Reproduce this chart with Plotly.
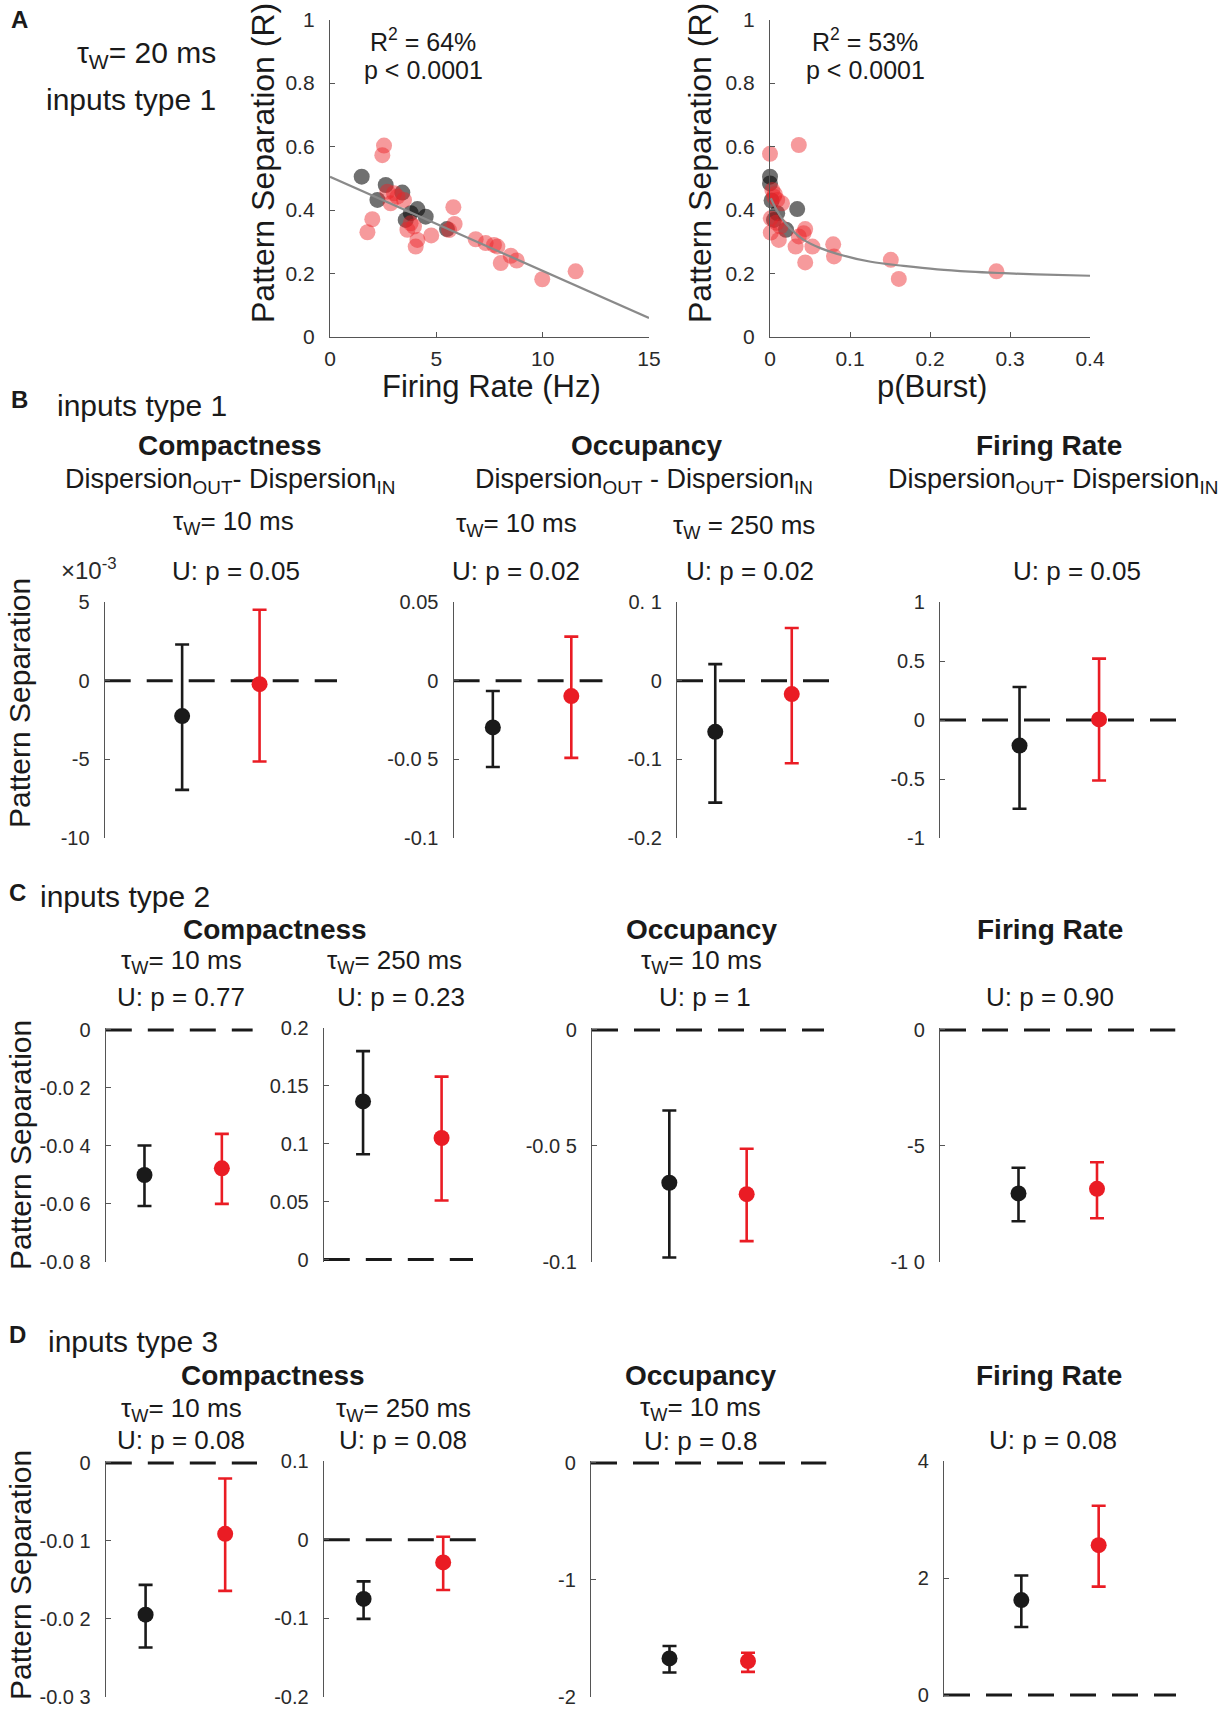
import plotly.graph_objects as go

W, H = 1231, 1709
FONT = "Liberation Sans, Arial, sans-serif"
RED = "#ea1c24"
BLK = "#1a1a1a"
AXC = "#555555"

# ---------------- Panel A data ----------------
a1_grey_x = [1.49, 2.62, 2.23, 3.40, 4.11, 4.50, 3.56, 3.80, 5.50]
a1_grey_y = [0.505, 0.479, 0.432, 0.455, 0.403, 0.379, 0.369, 0.390, 0.340]
a1_red_x = [2.54, 2.46, 1.99, 1.76, 3.01, 2.70, 2.85, 3.17, 3.48, 3.79, 3.64, 3.95, 4.11,
            4.03, 4.76, 5.80, 5.86, 5.60, 6.85, 7.32, 7.71, 7.87, 8.03, 8.50, 8.78, 9.98, 11.55]
a1_red_y = [0.603, 0.573, 0.371, 0.330, 0.453, 0.458, 0.421, 0.442, 0.432, 0.358, 0.338, 0.348, 0.306,
            0.285, 0.320, 0.409, 0.356, 0.337, 0.308, 0.296, 0.290, 0.285, 0.233, 0.256, 0.241, 0.182, 0.207]
a1_fit_x = [0, 15]
a1_fit_y = [0.505, 0.060]

a2_grey_x = [0.000, 0.000, 0.002, 0.034, 0.005, 0.020, 0.009]
a2_grey_y = [0.505, 0.484, 0.430, 0.403, 0.369, 0.338, 0.390]
a2_red_x = [0.000, 0.036, 0.001, 0.001, 0.003, 0.005, 0.009, 0.015, 0.013, 0.011, 0.032, 0.036,
            0.044, 0.042, 0.053, 0.044, 0.079, 0.080, 0.151, 0.161, 0.283, 0.006, 0.008]
a2_red_y = [0.577, 0.605, 0.374, 0.329, 0.463, 0.442, 0.432, 0.421, 0.348, 0.306, 0.285, 0.317,
            0.340, 0.327, 0.285, 0.235, 0.292, 0.254, 0.243, 0.183, 0.207, 0.450, 0.360]
a2_fit_x = [0.001, 0.013, 0.026, 0.042, 0.063, 0.084, 0.126, 0.167, 0.209, 0.250, 0.292, 0.333, 0.400]
a2_fit_y = [0.437, 0.380, 0.340, 0.306, 0.280, 0.262, 0.237, 0.224, 0.213, 0.206, 0.201, 0.197, 0.193]

# ---------------- Panels B-D data: [black, red] ----------------
group_x = [1, 2]
# B inputs type 1
b1_mean = [-2.25, -0.22]; b1_hi = [2.30, 4.51]; b1_lo = [-6.94, -5.14]          # x 10^-3
b2_mean = [-0.0297, -0.0098]; b2_hi = [-0.0066, 0.028]; b2_lo = [-0.0549, -0.0491]
b3_mean = [-0.065, -0.017]; b3_hi = [0.021, 0.067]; b3_lo = [-0.155, -0.105]
b4_mean = [-0.217, 0.005]; b4_hi = [0.28, 0.52]; b4_lo = [-0.752, -0.513]
# C inputs type 2
c1_mean = [-0.0501, -0.0478]; c1_hi = [-0.0399, -0.0359]; c1_lo = [-0.0608, -0.0601]
c2_mean = [0.1366, 0.105]; c2_hi = [0.180, 0.158]; c2_lo = [0.091, 0.051]
c3_mean = [-0.066, -0.0709]; c3_hi = [-0.0348, -0.0513]; c3_lo = [-0.0983, -0.0912]
c4_mean = [-7.06, -6.86]; c4_hi = [-5.95, -5.71]; c4_lo = [-8.26, -8.13]
# D inputs type 3
d1_mean = [-0.01944, -0.00908]; d1_hi = [-0.01563, -0.00199]; d1_lo = [-0.02366, -0.01639]
d2_mean = [-0.0753, -0.0289]; d2_hi = [-0.053, 0.0037]; d2_lo = [-0.1007, -0.064]
d3_mean = [-1.670, -1.693]; d3_hi = [-1.564, -1.622]; d3_lo = [-1.791, -1.785]
d4_mean = [1.623, 2.561]; d4_hi = [2.043, 3.235]; d4_lo = [1.163, 1.853]

# tick labels
b1_ticks = [-10, -5, 0, 5]; b1_text = ["-10", "-5", "0", "5"]
b2_ticks = [-0.1, -0.05, 0, 0.05]; b2_text = ["-0.1", "-0.0 5", "0", "0.05"]
b3_ticks = [-0.2, -0.1, 0, 0.1]; b3_text = ["-0.2", "-0.1", "0", "0. 1"]
b4_ticks = [-1, -0.5, 0, 0.5, 1]; b4_text = ["-1", "-0.5", "0", "0.5", "1"]
c1_ticks = [-0.08, -0.06, -0.04, -0.02, 0]; c1_text = ["-0.0 8", "-0.0 6", "-0.0 4", "-0.0 2", "0"]
c2_ticks = [0, 0.05, 0.1, 0.15, 0.2]; c2_text = ["0", "0.05", "0.1", "0.15", "0.2"]
c3_ticks = [-0.1, -0.05, 0]; c3_text = ["-0.1", "-0.0 5", "0"]
c4_ticks = [-10, -5, 0]; c4_text = ["-1 0", "-5", "0"]
d1_ticks = [-0.03, -0.02, -0.01, 0]; d1_text = ["-0.0 3", "-0.0 2", "-0.0 1", "0"]
d2_ticks = [-0.2, -0.1, 0, 0.1]; d2_text = ["-0.2", "-0.1", "0", "0.1"]
d3_ticks = [-2, -1, 0]; d3_text = ["-2", "-1", "0"]
d4_ticks = [0, 2, 4]; d4_text = ["0", "2", "4"]

fig = go.Figure()
layout = {}
annotations = []


def px_dom(x0, x1, y0, y1):
    return [x0 / W, x1 / W], [1 - y1 / H, 1 - y0 / H]


def ann(x, y, text, size=26, bold=False, xanchor="center", angle=0, color=BLK):
    if bold:
        text = "<b>" + text + "</b>"
    annotations.append(dict(x=x / W, y=1 - y / H, xref="paper", yref="paper", text=text,
                            showarrow=False, xanchor=xanchor, yanchor="middle", textangle=angle,
                            font=dict(family=FONT, size=size, color=color)))


def axis_names(i):
    s = "" if i == 1 else str(i)
    return "xaxis" + s, "yaxis" + s, "x" + s, "y" + s


# ---------------- Panel A scatter plots ----------------
def scatter_panel(i, box, xr, xt, yr, yt, gx, gy, rx, ry, fx, fy, smooth):
    xa, ya, xn, yn = axis_names(i)
    xd, yd = px_dom(*box)
    common = dict(showgrid=False, zeroline=False, showline=True, linecolor=AXC, linewidth=1.3,
                  ticks="inside", ticklen=5, tickcolor=AXC, tickwidth=1.2,
                  tickfont=dict(family=FONT, size=21, color="#2a2a2a"))
    layout[xa] = dict(domain=xd, range=xr, anchor=yn, tickvals=xt, ticktext=[("%g" % v) for v in xt],
                      ticklabelstandoff=3, **common)
    layout[ya] = dict(domain=yd, range=yr, anchor=xn, tickvals=yt, ticktext=[("%g" % v) for v in yt],
                      ticklabelstandoff=10, **common)
    fig.add_trace(go.Scatter(x=gx, y=gy, mode="markers", xaxis=xn, yaxis=yn, cliponaxis=False,
                             marker=dict(size=16, color="rgba(0,0,0,0.56)", line=dict(width=0))))
    fig.add_trace(go.Scatter(x=rx, y=ry, mode="markers", xaxis=xn, yaxis=yn, cliponaxis=False,
                             marker=dict(size=16, color="rgba(236,34,40,0.46)", line=dict(width=0))))
    fig.add_trace(go.Scatter(x=fx, y=fy, mode="lines", xaxis=xn, yaxis=yn,
                             line=dict(color="#8a8a8a", width=2.2, shape="spline" if smooth else "linear")))


scatter_panel(1, (330, 649, 19.6, 337), [0, 15], [0, 5, 10, 15], [0, 1], [0, 0.2, 0.4, 0.6, 0.8, 1],
              a1_grey_x, a1_grey_y, a1_red_x, a1_red_y, a1_fit_x, a1_fit_y, False)
scatter_panel(2, (770, 1090, 19.6, 337), [0, 0.4], [0, 0.1, 0.2, 0.3, 0.4], [0, 1],
              [0, 0.2, 0.4, 0.6, 0.8, 1],
              a2_grey_x, a2_grey_y, a2_red_x, a2_red_y, a2_fit_x, a2_fit_y, True)


# ---------------- Error bar panels ----------------
def err_panel(i, box, xr, yr, ticks, text, mean, hi, lo):
    xa, ya, xn, yn = axis_names(i)
    xd, yd = px_dom(*box)
    span = yr[1] - yr[0]
    hpx = box[3] - box[2]
    pad = span * 2.0 / hpx
    r0 = yr[0] - pad if abs(yr[0]) < 1e-12 else yr[0]
    r1 = yr[1] + pad if abs(yr[1]) < 1e-12 else yr[1]
    layout[xa] = dict(domain=xd, range=xr, anchor=yn, visible=False, showgrid=False, zeroline=False)
    layout[ya] = dict(domain=yd, range=[r0, r1], anchor=xn, showgrid=False, zeroline=False,
                      showline=True, linecolor=AXC, linewidth=1.3, ticks="inside", ticklen=5,
                      tickcolor=AXC, tickwidth=1.2, tickvals=ticks, ticktext=text, ticklabelstandoff=10,
                      tickfont=dict(family=FONT, size=20, color="#2a2a2a"))
    fig.add_trace(go.Scatter(x=xr, y=[0, 0], mode="lines", xaxis=xn, yaxis=yn,
                             line=dict(color=BLK, width=3, dash="26px,16px")))
    cols = [BLK, RED]
    for k in range(2):
        fig.add_trace(go.Scatter(
            x=[group_x[k]], y=[mean[k]], mode="markers", xaxis=xn, yaxis=yn, cliponaxis=False,
            marker=dict(size=16, color=cols[k], line=dict(width=0)),
            error_y=dict(type="data", symmetric=False, array=[hi[k] - mean[k]],
                         arrayminus=[mean[k] - lo[k]], color=cols[k], thickness=2.6, width=7)))


BY = (602, 838)
CY = (1028, 1261.5)
DY = (1461, 1697)
err_panel(3, (104.7, 337, *BY), [0, 3], [-10, 5], b1_ticks, b1_text, b1_mean, b1_hi, b1_lo)
err_panel(4, (453.6, 602.7, *BY), [0.5, 2.4], [-0.1, 0.05], b2_ticks, b2_text, b2_mean, b2_hi, b2_lo)
err_panel(5, (677, 830, *BY), [0.5, 2.5], [-0.2, 0.1], b3_ticks, b3_text, b3_mean, b3_hi, b3_lo)
err_panel(6, (940, 1178.6, *BY), [0, 3], [-1, 1], b4_ticks, b4_text, b4_mean, b4_hi, b4_lo)

err_panel(7, (105.8, 252.8, *CY), [0.5, 2.4], [-0.08, 0], c1_ticks, c1_text, c1_mean, c1_hi, c1_lo)
err_panel(8, (323.8, 473, *CY), [0.5, 2.4], [0, 0.2], c2_ticks, c2_text, c2_mean, c2_hi, c2_lo)
err_panel(9, (592, 824, *CY), [0, 3], [-0.1, 0], c3_ticks, c3_text, c3_mean, c3_hi, c3_lo)
err_panel(10, (940, 1175.5, *CY), [0, 3], [-10, 0], c4_ticks, c4_text, c4_mean, c4_hi, c4_lo)

err_panel(11, (105.8, 257, *DY), [0.5, 2.4], [-0.03, 0], d1_ticks, d1_text, d1_mean, d1_hi, d1_lo)
err_panel(12, (323.8, 479, *DY), [0.5, 2.45], [-0.2, 0.1], d2_ticks, d2_text, d2_mean, d2_hi, d2_lo)
err_panel(13, (591, 826.5, *DY), [0, 3], [-2, 0], d3_ticks, d3_text, d3_mean, d3_hi, d3_lo)
err_panel(14, (944, 1176, *DY), [0, 3], [0, 4], d4_ticks, d4_text, d4_mean, d4_hi, d4_lo)

# ---------------- Text ----------------
TAU10 = "τ<sub>W</sub>= 10 ms"
TAU250 = "τ<sub>W</sub>= 250 ms"
DISP = "Dispersion<sub>OUT</sub>- Dispersion<sub>IN</sub>"
DISP2 = "Dispersion<sub>OUT</sub> - Dispersion<sub>IN</sub>"
TS = 26      # small title text
BS = 28      # bold headers
IS = 30      # "inputs type" text
YT = 30      # row y titles

# Panel A
ann(19.6, 19.6, "A", size=24, bold=True)
ann(146, 54.5, "τ<sub>W</sub>= 20 ms", size=IS)
ann(131, 100, "inputs type 1", size=IS)
ann(263, 163, "Pattern Separation (R)", size=32, angle=-90)
ann(700, 163, "Pattern Separation (R)", size=32, angle=-90)
ann(491, 387, "Firing Rate (Hz)", size=31)
ann(932, 387, "p(Burst)", size=31)
ann(423, 40, "R<sup>2</sup> = 64%", size=25)
ann(423, 70, "p < 0.0001", size=25)
ann(865, 40, "R<sup>2</sup> = 53%", size=25)
ann(865, 70, "p < 0.0001", size=25)

# Panel B
ann(19.6, 399, "B", size=24, bold=True)
ann(54.5, 405.6, "inputs type 1", size=IS, xanchor="left")
ann(230, 445, "Compactness", size=BS, bold=True)
ann(230, 481, DISP, size=27)
ann(233, 523, TAU10, size=TS)
ann(235.5, 571, "U: p = 0.05", size=TS)
ann(89, 569, "×10<sup>-3</sup>", size=24, color="#2a2a2a")
ann(646.5, 445, "Occupancy", size=BS, bold=True)
ann(644, 481, DISP2, size=27)
ann(516, 524, TAU10, size=TS)
ann(516, 571, "U: p = 0.02", size=TS)
ann(743.6, 526.6, "τ<sub>W</sub> = 250 ms", size=TS)
ann(750, 571, "U: p = 0.02", size=TS)
ann(1049, 445, "Firing Rate", size=BS, bold=True)
ann(1053, 481, DISP, size=27)
ann(1077, 571, "U: p = 0.05", size=TS)
ann(20, 703, "Pattern Separation", size=YT, angle=-90)

# Panel C
ann(17.4, 892, "C", size=24, bold=True)
ann(38, 896, "inputs type 2", size=IS, xanchor="left")
ann(275, 930, "Compactness", size=BS, bold=True)
ann(181, 961.6, TAU10, size=TS)
ann(181, 996.5, "U: p = 0.77", size=TS)
ann(394.7, 961.6, TAU250, size=TS)
ann(401, 996.5, "U: p = 0.23", size=TS)
ann(701, 930, "Occupancy", size=BS, bold=True)
ann(701, 961.6, TAU10, size=TS)
ann(705, 996.5, "U: p = 1", size=TS)
ann(1050, 930, "Firing Rate", size=BS, bold=True)
ann(1050, 996.5, "U: p = 0.90", size=TS)
ann(20, 1145, "Pattern Separation", size=YT, angle=-90)

# Panel D
ann(17.4, 1334.5, "D", size=24, bold=True)
ann(45.8, 1341, "inputs type 3", size=IS, xanchor="left")
ann(272.6, 1375, "Compactness", size=BS, bold=True)
ann(181, 1409.8, TAU10, size=TS)
ann(181, 1440, "U: p = 0.08", size=TS)
ann(403.4, 1409.8, TAU250, size=TS)
ann(403.4, 1440, "U: p = 0.08", size=TS)
ann(700, 1375, "Occupancy", size=BS, bold=True)
ann(700, 1408.7, TAU10, size=TS)
ann(700, 1441, "U: p = 0.8", size=TS)
ann(1049, 1375, "Firing Rate", size=BS, bold=True)
ann(1053, 1440, "U: p = 0.08", size=TS)
ann(20, 1575, "Pattern Separation", size=YT, angle=-90)

fig.update_layout(width=W, height=H, margin=dict(l=0, r=0, t=0, b=0, autoexpand=False),
                  paper_bgcolor="white", plot_bgcolor="rgba(0,0,0,0)", showlegend=False,
                  font=dict(family=FONT, color=BLK), annotations=annotations, **layout)

fig.write_html("out.html", config={"displayModeBar": False},
               post_script="document.body.style.margin='0px';document.body.style.overflow='hidden';")
